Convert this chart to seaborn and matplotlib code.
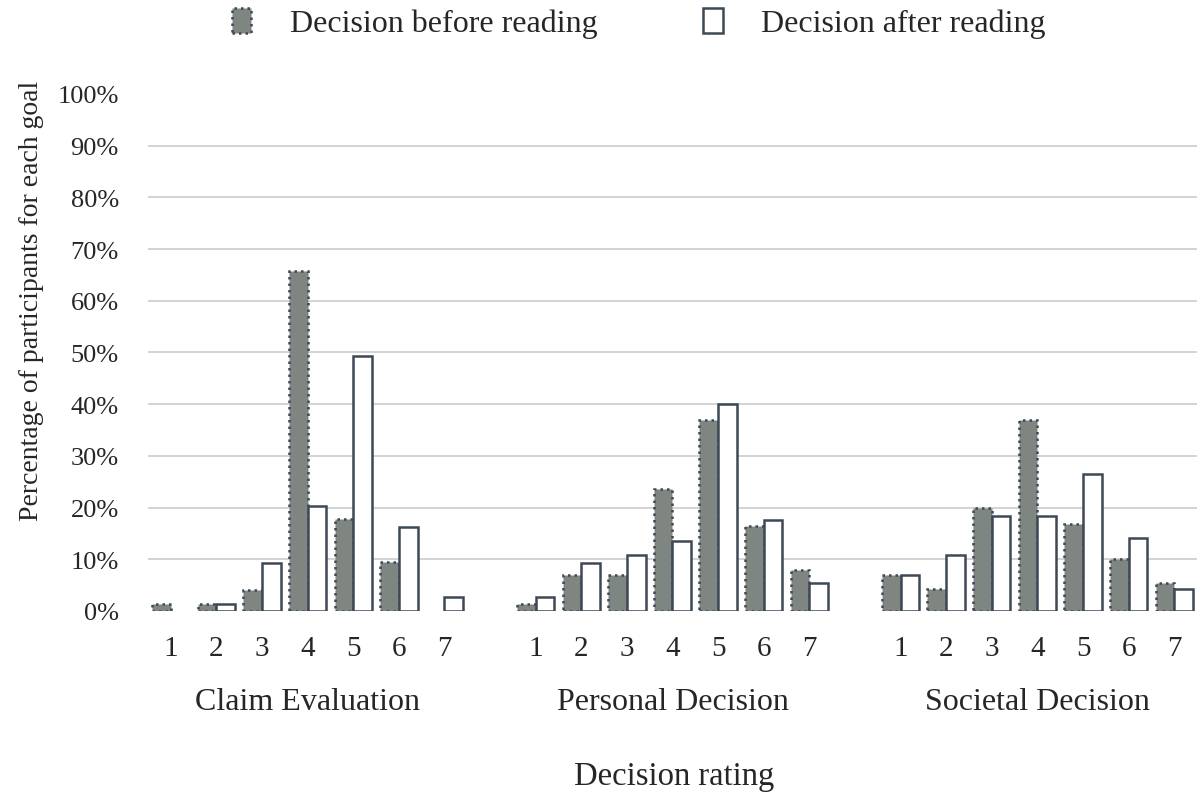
import pandas as pd
import numpy as np
import matplotlib.pyplot as plt
import matplotlib.patches as mpatches
import matplotlib.transforms as mtransforms
import seaborn as sns

# Data (percent of participants per rating)
ratings = [1, 2, 3, 4, 5, 6, 7]
goals = ['Claim Evaluation', 'Personal Decision', 'Societal Decision']
timings = ['Decision before reading', 'Decision after reading']

before_claim = [1.3, 1.3, 4.0, 65.8, 17.8, 9.5, 0.0]
after_claim = [0.0, 1.3, 9.3, 20.3, 49.3, 16.3, 2.7]
before_personal = [1.3, 6.9, 6.9, 23.6, 37.0, 16.4, 8.0]
after_personal = [2.7, 9.3, 10.9, 13.6, 40.0, 17.6, 5.4]
before_societal = [6.9, 4.3, 20.0, 37.0, 16.9, 10.0, 5.4]
after_societal = [6.9, 10.9, 18.3, 18.3, 26.4, 14.1, 4.2]

before = [before_claim, before_personal, before_societal]
after = [after_claim, after_personal, after_societal]

# Long-form table, one slot per goal/rating, plus empty slots between goals
rows = []
order = []
for g, goal in enumerate(goals):
    for r, rating in enumerate(ratings):
        slot = f'{goal}|{rating}'
        rows.append({'slot': slot, 'timing': timings[0], 'pct': before[g][r] / 100})
        rows.append({'slot': slot, 'timing': timings[1], 'pct': after[g][r] / 100})
        order.append(slot)
    if g < len(goals) - 1:
        order.append(f'gap{g}')
data = pd.DataFrame(rows)

gray = '#7f8580'
edge = '#3d4957'

sns.set_style('white')
plt.rcParams['font.family'] = ['Liberation Serif', 'DejaVu Serif']

fig = plt.figure(figsize=(11.98, 8.03), dpi=100)
ax = fig.add_axes([0.1235, 0.2379, 0.8757, 0.6438])

sns.barplot(data=data, x='slot', y='pct', hue='timing', order=order,
            hue_order=timings, palette=[gray, 'white'], saturation=1,
            errorbar=None, width=0.82, ax=ax, legend=False)

# Style bars: before = gray with dotted edge, after = white with solid edge
for bar in ax.containers[0]:
    bar.set_facecolor(gray)
    bar.set_edgecolor(edge)
    bar.set_linestyle((0, (1, 1.6)))
    bar.set_linewidth(1.8)
    if bar.get_height() == 0:
        bar.set_visible(False)
for bar in ax.containers[1]:
    bar.set_facecolor('white')
    bar.set_edgecolor(edge)
    bar.set_linewidth(1.8)
    if bar.get_height() == 0:
        bar.set_visible(False)

ax.set_xlim(-0.5, len(order) - 0.5)
ax.set_ylim(0, 1)
ax.set_yticks(np.arange(0, 1.01, 0.1))
ax.set_yticklabels([f'{int(round(v * 100))}%' for v in np.arange(0, 1.01, 0.1)])
ax.set_xticks(range(len(order)))
ax.set_xticklabels([s.split('|')[1] if '|' in s else '' for s in order])
ax.tick_params(axis='y', length=0, pad=21, labelsize=19)
ax.tick_params(axis='x', length=0, pad=17, labelsize=21)
ax.set_xlabel('')
ax.set_ylabel('')

ax.yaxis.grid(True, color='#d0d0d0', linewidth=1.3)
ax.set_axisbelow(True)
gl = ax.get_ygridlines()
gl[0].set_visible(False)
gl[-1].set_visible(False)
for s in ax.spines.values():
    s.set_visible(False)

# Group labels under the rating numbers
trans = mtransforms.blended_transform_factory(ax.transData, fig.transFigure)
for g, goal in enumerate(goals):
    center = g * 8 + 3
    ax.text(center, 1 - 703 / 803, goal, transform=trans, ha='center',
            va='center', fontsize=23)

fig.text(0.5626, 1 - 777 / 803, 'Decision rating', ha='center', va='center', fontsize=23.5)
fig.text(0.026, 1 - 301 / 803, 'Percentage of participants for each goal',
         rotation=90, ha='center', va='center', fontsize=20)

handles = [
    mpatches.Patch(facecolor=gray, edgecolor=edge, linestyle=(0, (1, 1.6)), linewidth=1.8),
    mpatches.Patch(facecolor='white', edgecolor=edge, linewidth=1.8),
]
fig.legend(handles, timings, loc='center', bbox_to_anchor=(0.533, 1 - 24 / 803),
           ncol=2, frameon=False, fontsize=23, handlelength=0.62, handleheight=0.85,
           handletextpad=1.2, columnspacing=3.3)

fig.savefig('out.png', dpi=100)
